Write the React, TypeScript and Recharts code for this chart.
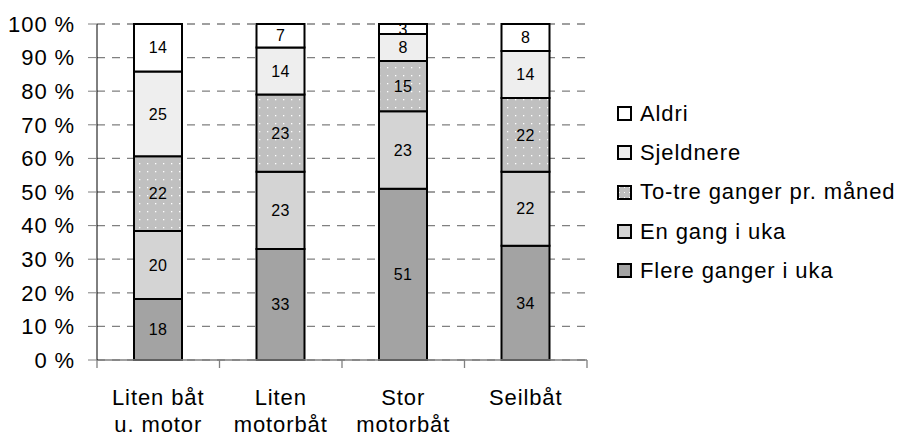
import React from 'react';
import { BarChart, Bar, XAxis, YAxis, CartesianGrid, LabelList } from 'recharts';

const categories = ['Liten båt\nu. motor', 'Liten\nmotorbåt', 'Stor\nmotorbåt', 'Seilbåt'];
const flere = [18, 33, 51, 34];
const engang = [20, 23, 23, 22];
const totre = [22, 23, 15, 22];
const sjeldnere = [25, 14, 8, 14];
const aldri = [14, 7, 3, 8];
const yTicks = [0, 0.1, 0.2, 0.3, 0.4, 0.5, 0.6, 0.7, 0.8, 0.9, 1];

const series = [
  { key: 'flere', name: 'Flere ganger i uka', fill: '#a3a3a3' },
  { key: 'engang', name: 'En gang i uka', fill: '#d4d4d4' },
  { key: 'totre', name: 'To-tre ganger pr. måned', fill: 'url(#dots)' },
  { key: 'sjeldnere', name: 'Sjeldnere', fill: '#eeeeee' },
  { key: 'aldri', name: 'Aldri', fill: '#ffffff' },
];

const data = categories.map((c, i) => ({
  cat: c,
  flere: flere[i],
  engang: engang[i],
  totre: totre[i],
  sjeldnere: sjeldnere[i],
  aldri: aldri[i],
}));

const FONT = '"Liberation Sans", Arial, sans-serif';
const FS = 22;
const LS = 0.9;

const CatTick = (props: any) => {
  const { x, y, payload, index } = props;
  const half = payload && typeof payload.offset === 'number' ? payload.offset : 0;
  const lines = String(payload.value).split('\n');
  const isLast = index === categories.length - 1;
  return (
    <g>
      {half > 0 && (
        <line x1={x - half} x2={x - half} y1={y} y2={y + 8} stroke="#808080" strokeWidth={1.3} />
      )}
      {half > 0 && isLast && (
        <line x1={x + half} x2={x + half} y1={y} y2={y + 8} stroke="#808080" strokeWidth={1.3} />
      )}
      <text x={x} y={y} textAnchor="middle" fontFamily={FONT} fontSize={FS} letterSpacing={LS} fill="#000">
        {lines.map((l, i) => (
          <tspan key={i} x={x} y={y + 45 + i * 27}>{l}</tspan>
        ))}
      </text>
    </g>
  );
};

const Swatch = ({ fill }: { fill: string }) => (
  <svg width={15} height={15} style={{ display: 'block' }}>
    <defs>
      <pattern id="dotsL" width={5} height={5} patternUnits="userSpaceOnUse">
        <rect width={5} height={5} fill="#c0c0c0" />
        <rect x={2} y={2} width={1} height={1} fill="#ffffff" />
      </pattern>
    </defs>
    <rect x={1} y={1} width={13} height={13} fill={fill === 'url(#dots)' ? 'url(#dotsL)' : fill} stroke="#000" strokeWidth={2} />
  </svg>
);

const LegendBox = () => {
  const items = [...series].reverse();
  return (
    <div
      style={{
        position: 'absolute',
        left: 617,
        top: 94,
        width: 290,
        fontFamily: FONT,
        fontSize: FS,
        letterSpacing: LS,
        color: '#000',
      }}
    >
      {items.map((s) => (
        <div key={s.key} style={{ display: 'flex', alignItems: 'center', height: 39.3 }}>
          <Swatch fill={s.fill} />
          <span style={{ marginLeft: 8, whiteSpace: 'nowrap' }}>{s.name}</span>
        </div>
      ))}
    </div>
  );
};

export default function App() {
  return (
    <div style={{ position: 'absolute', left: 0, top: 0, width: 907, height: 439, background: '#fff' }}>
      <BarChart
        width={907}
        height={439}
        data={data}
        stackOffset="expand"
        barSize={48}
        margin={{ top: 24, right: 320, left: 0, bottom: 0 }}
      >
        <defs>
          <pattern id="dots" width={8} height={8} patternUnits="userSpaceOnUse">
            <rect width={8} height={8} fill="#c0c0c0" />
            <rect x={3} y={3} width={1.3} height={1.3} fill="#ffffff" />
          </pattern>
        </defs>
        <CartesianGrid vertical={false} stroke="#808080" strokeDasharray="8 7" strokeWidth={1.3} />
        <XAxis
          dataKey="cat"
          height={79}
          axisLine={{ stroke: '#808080', strokeWidth: 1.3 }}
          tickLine={false}
          tickSize={0}
          tickMargin={0}
          interval={0}
          tick={<CatTick />}
        />
        <YAxis
          width={97}
          domain={[0, 1]}
          ticks={yTicks}
          tickFormatter={(v: number) => `${Math.round(v * 100)} %`}
          tickSize={9}
          tickMargin={13}
          stroke="#000"
          tickLine={{ stroke: '#808080' }}
          tick={{ fontFamily: FONT, fontSize: FS, fill: '#000', letterSpacing: LS } as any}
          interval={0}
        />
        {series.map((s) => (
          <Bar
            key={s.key}
            dataKey={s.key}
            name={s.name}
            stackId="a"
            fill={s.fill}
            stroke="#000"
            strokeWidth={2}
            isAnimationActive={false}
          >
            <LabelList
              dataKey={s.key}
              position="center"
              fill="#000"
              style={{ fontFamily: FONT, fontSize: 16, letterSpacing: 0.3 }}
            />
          </Bar>
        ))}
      </BarChart>
      <LegendBox />
    </div>
  );
}
